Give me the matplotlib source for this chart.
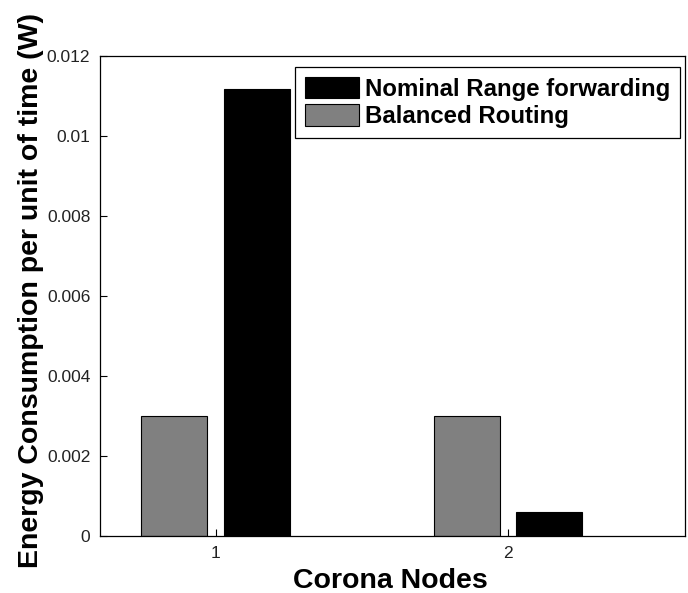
import matplotlib
matplotlib.use("Agg")
import matplotlib.pyplot as plt
import numpy as np

categories = [1, 2]
balanced = [0.003, 0.003]
nominal = [0.01118, 0.0006]
yticks = [0, 0.002, 0.004, 0.006, 0.008, 0.01, 0.012]
yticklabels = ["0", "0.002", "0.004", "0.006", "0.008", "0.01", "0.012"]

plt.rcParams['font.family'] = ['Liberation Sans', 'DejaVu Sans']

W, H = 688, 593
fig = plt.figure(figsize=(W/100, H/100), dpi=100)
ax_l, ax_r, ax_t, ax_b = 100, 685, 56, 536
ax = fig.add_axes([ax_l/W, (H-ax_b)/H, (ax_r-ax_l)/W, (ax_b-ax_t)/H])

x = np.array(categories, dtype=float)
w = 0.226
off = 0.142
ax.bar(x - off, balanced, w, color='#808080', edgecolor='black', linewidth=0.8,
       label='Balanced Routing', zorder=2)
ax.bar(x + off, nominal, w, color='black', edgecolor='black', linewidth=0.8,
       label='Nominal Range forwarding', zorder=2)

ax.set_xlim(0.603, 2.606)
ax.set_ylim(0, 0.012)
ax.set_xticks(categories)
ax.set_xticklabels([str(c) for c in categories])
ax.set_yticks(yticks)
ax.set_yticklabels(yticklabels)
ax.tick_params(direction='in', length=5, labelsize=12.5, colors='black', pad=7,
               labelcolor='#222222')
for s in ax.spines.values():
    s.set_linewidth(0.9)

ax.set_xlabel('Corona Nodes', fontsize=20.5, fontweight='bold')
ax.set_ylabel('Energy Consumption per unit of time (W)', fontsize=20.5,
              fontweight='bold')
ax.xaxis.set_label_coords((390 - ax_l) / (ax_r - ax_l), (ax_b - 568) / (ax_b - ax_t))
ax.yaxis.set_label_coords((44 - ax_l) / (ax_r - ax_l), (ax_b - 290) / (ax_b - ax_t))

h, l = ax.get_legend_handles_labels()
anchor = ((680 - ax_l) / (ax_r - ax_l), (ax_b - 67) / (ax_b - ax_t))
leg = ax.legend(h[::-1], l[::-1], loc='upper right', bbox_to_anchor=anchor,
                prop={'weight': 'bold', 'size': 17.3},
                frameon=True, fancybox=False, edgecolor='black', framealpha=1,
                handlelength=2.25, handleheight=1.0, handletextpad=0.25,
                borderpad=0.4, labelspacing=0.15, borderaxespad=0.0)
leg.get_frame().set_linewidth(0.9)

fig.savefig('out.png', dpi=100)
